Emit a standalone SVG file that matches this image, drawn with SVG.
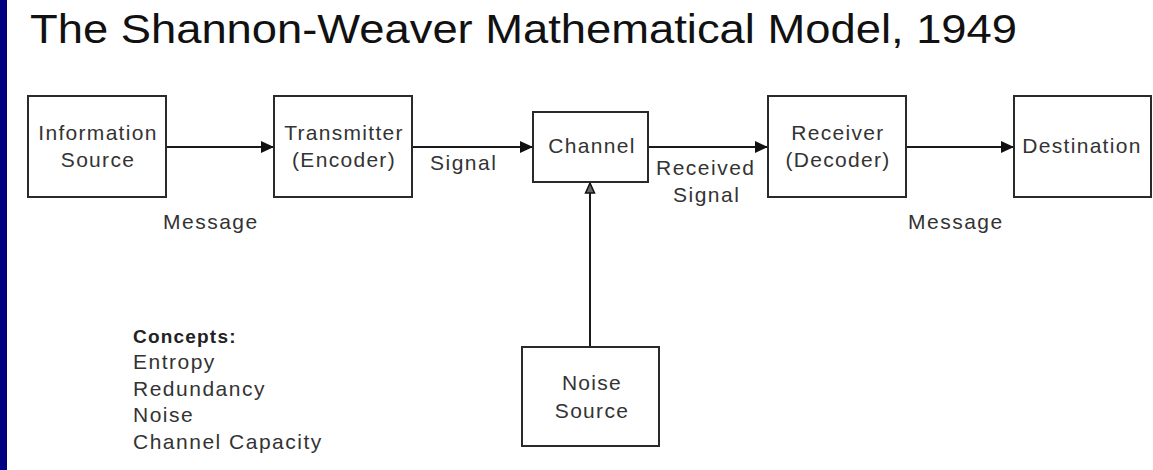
<svg xmlns="http://www.w3.org/2000/svg" width="1153" height="470" viewBox="0 0 1153 470">
<style>
.box{fill:#fff;stroke:#2a2a2a;stroke-width:2}
.t{font-family:"Liberation Sans",Arial,sans-serif;font-size:21px;fill:#333;letter-spacing:1.3px;text-anchor:middle}
.l{font-family:"Liberation Sans",Arial,sans-serif;font-size:21px;fill:#333;letter-spacing:1.5px}
.c{stroke:#1a1a1a;stroke-width:2;fill:none}
</style>
<defs>
<marker id="ah" markerWidth="14" markerHeight="14" refX="13" refY="7" orient="auto" markerUnits="userSpaceOnUse">
<path d="M0,1 L13,7 L0,13 Z" fill="#111"/>
</marker>
<marker id="ah2" markerWidth="14" markerHeight="14" refX="11" refY="6" orient="auto" markerUnits="userSpaceOnUse">
<path d="M1,1.5 L11,6 L1,10.5 Z" fill="#666" stroke="#111" stroke-width="1.5"/>
</marker>
</defs>
<rect x="0" y="0" width="1153" height="470" fill="#fff"/>
<rect x="0" y="0" width="7" height="470" fill="#000080"/>
<text x="30" y="43" font-family="Liberation Sans,Arial,sans-serif" font-size="40" fill="#111" textLength="987" lengthAdjust="spacingAndGlyphs">The Shannon-Weaver Mathematical Model, 1949</text>
<g id="connectors">
<line class="c" x1="166" y1="147" x2="274" y2="147" marker-end="url(#ah)"/>
<line class="c" x1="412" y1="147" x2="533" y2="147" marker-end="url(#ah)"/>
<line class="c" x1="648" y1="147" x2="768" y2="147" marker-end="url(#ah)"/>
<line class="c" x1="906" y1="147" x2="1014" y2="147" marker-end="url(#ah)"/>
<line class="c" x1="590" y1="347" x2="590" y2="183" marker-end="url(#ah2)"/>
<text class="l" x="163" y="229">Message</text>
<text class="l" x="430" y="170">Signal</text>
<text class="l" x="656" y="175">Received</text>
<text class="l" x="673" y="202">Signal</text>
<text class="l" x="908" y="229">Message</text>
</g>
<g id="info-source">
<rect class="box" x="28" y="96" width="138" height="101"/>
<text class="t" x="98" y="140">Information</text>
<text class="t" x="98" y="167">Source</text>
</g>
<g id="transmitter">
<rect class="box" x="274" y="96" width="138" height="101"/>
<text class="t" x="344" y="140">Transmitter</text>
<text class="t" x="344" y="167">(Encoder)</text>
</g>
<g id="channel">
<rect class="box" x="533" y="112" width="115" height="70"/>
<text class="t" x="592" y="153">Channel</text>
</g>
<g id="receiver">
<rect class="box" x="768" y="96" width="138" height="101"/>
<text class="t" x="838" y="140">Receiver</text>
<text class="t" x="838" y="167">(Decoder)</text>
</g>
<g id="destination">
<rect class="box" x="1014" y="96" width="137" height="101"/>
<text class="t" x="1082" y="153">Destination</text>
</g>
<g id="noise-source">
<rect class="box" x="522" y="347" width="137" height="99"/>
<text class="t" x="592" y="390">Noise</text>
<text class="t" x="592" y="418">Source</text>
</g>
<g id="concepts">
<text x="133" y="343" font-family="Liberation Sans,Arial,sans-serif" font-size="19" font-weight="bold" fill="#222" letter-spacing="1.2">Concepts:</text>
<text class="l" x="133" y="369">Entropy</text>
<text class="l" x="133" y="396">Redundancy</text>
<text class="l" x="133" y="422">Noise</text>
<text class="l" x="133" y="449">Channel Capacity</text>
</g>
</svg>
